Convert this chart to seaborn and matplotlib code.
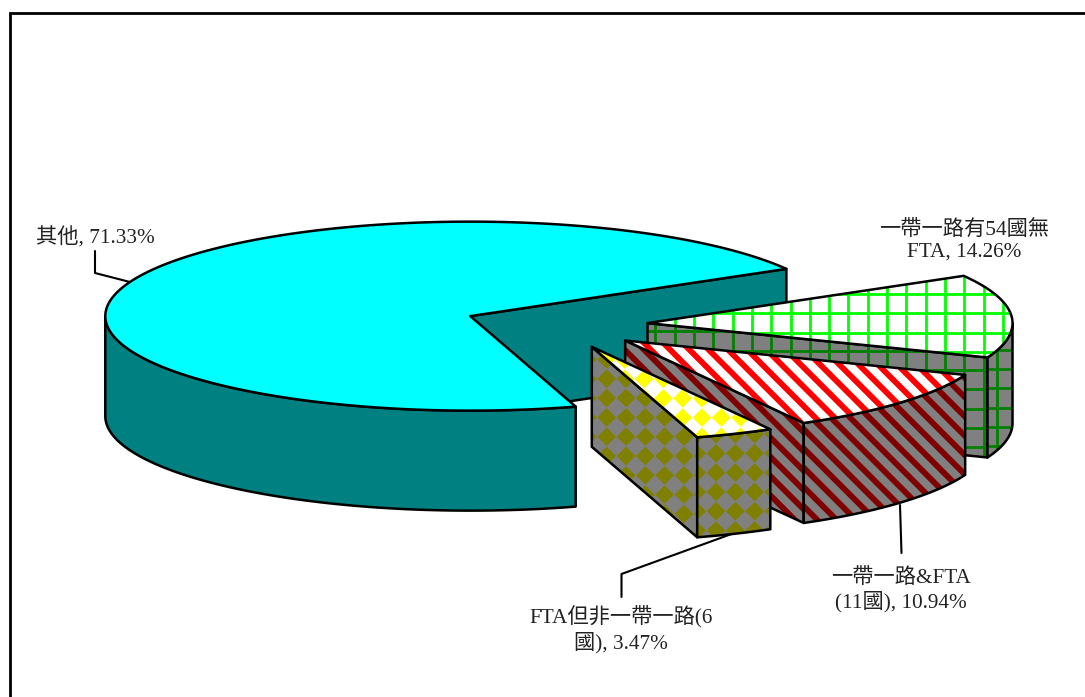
import numpy as np
import matplotlib
matplotlib.use("Agg")
import matplotlib.pyplot as plt
from matplotlib.collections import LineCollection, PolyCollection
from matplotlib.patches import Polygon
import seaborn as sns

# Trade share by partner group (percent)
labels = ["其他", "FTA但非一帶一路(6\n國)", "一帶一路&FTA\n(11國)", "一帶一路有54國無\nFTA"]
shares = [71.33, 3.47, 10.94, 14.26]
top_colors = ["#00FFFF", "#FFFFFF", "#FFFFFF", "#FFFFFF"]
wall_colors = ["#008080", "#808080", "#808080", "#808080"]
ink_top = [None, "#FFFF00", "#FF0000", "#00FF00"]
ink_wall = [None, "#808000", "#800000", "#008000"]

sns.set_theme(style="white")
FONT = ["Liberation Serif", "Noto Sans CJK TC", "DejaVu Sans"]
plt.rcParams["font.family"] = FONT

W, H = 1085, 697
fig = plt.figure(figsize=(W / 100, H / 100), dpi=100, facecolor="white")
ax = fig.add_axes([0, 0, 1, 1])
ax.set_xlim(0, W)
ax.set_ylim(H, 0)
ax.axis("off")

# Projection of the pie: an ellipse, a drop for the rim, and one explosion factor
CX, CY, RX, RY, DEPTH, EXPLODE = 555.8, 324.9, 365.0, 94.5, 100.0, 0.252
START_DEG = 30.0
PERIOD = 19.3
EDGE = 1.8


def rim(apex, deg):
    t = np.radians(deg)
    return np.column_stack([apex[0] + RX * np.cos(t), apex[1] - RY * np.sin(t)])


def pattern(patch, kind, color, phase):
    """Lay a repeating fill over a polygon, clipped to its outline."""
    verts = patch.get_xy()
    x0, y0 = verts.min(axis=0)
    x1, y1 = verts.max(axis=0)
    px, py = phase
    if kind == "grid":
        xs = np.arange(px - PERIOD * np.ceil((px - x0) / PERIOD), x1 + 1, PERIOD)
        ys = np.arange(py - PERIOD * np.ceil((py - y0) / PERIOD), y1 + 1, PERIOD)
        segs = [[(x, y0), (x, y1)] for x in xs] + [[(x0, y), (x1, y)] for y in ys]
        art = LineCollection(segs, colors=color, linewidths=2.0, zorder=patch.get_zorder())
    elif kind == "stripe":
        first = px - py
        cs = np.arange(first - PERIOD * np.ceil((first - (x0 - y1)) / PERIOD), x1 - y0 + 1, PERIOD)
        segs = [[(c + y0, y0), (c + y1, y1)] for c in cs]
        art = LineCollection(segs, colors=color, linewidths=4.2, zorder=patch.get_zorder())
    else:
        half = PERIOD / 2
        r = half * 0.97
        xs = np.arange(px - PERIOD * np.ceil((px - x0 + half) / PERIOD), x1 + half, PERIOD)
        ys = np.arange(py - PERIOD * np.ceil((py - y0 + half) / PERIOD), y1 + half, PERIOD)
        d = [[(x - r, y), (x, y - r), (x + r, y), (x, y + r)] for x in xs for y in ys]
        art = PolyCollection(d, facecolors=color, edgecolors="none", zorder=patch.get_zorder())
    ax.add_collection(art, autolim=False)
    art.set_clip_path(patch)


def face(verts, fill, z, kind=None, ink=None, phase=None):
    patch = Polygon(verts, closed=True, facecolor=fill, edgecolor="none", zorder=z)
    ax.add_patch(patch)
    if kind:
        pattern(patch, kind, ink, phase)
    ax.add_patch(Polygon(verts, closed=True, facecolor="none", edgecolor="black",
                         linewidth=EDGE, joinstyle="round", zorder=z))


# Fill style and pattern origin per slice: top, cut side, outer rim
styles = {
    1: ("diamond", (682.7, 398.3), (606.7, 436.7), (716.0, 453.3)),
    2: ("stripe", (793.3, 415.0), (630.0, 355.0), (800.0, 483.3)),
    3: ("grid", (964.3, 294.0), (964.3, 370.0), (996.7, 369.0)),
}

edges = START_DEG + np.concatenate([[0], np.cumsum(shares) * 3.6])

# Back slice first so the exploded front slices overlap it
for order, i in enumerate([0, 3, 2, 1]):
    t0, t1 = edges[i], edges[i + 1]
    mid = np.radians((t0 + t1) / 2)
    apex = (CX + EXPLODE * RX * np.cos(mid), CY - EXPLODE * RY * np.sin(mid))
    z = 2 + order * 3
    kind, top_org, cut_org, out_org = styles.get(i, (None, None, None, None))

    if np.cos(np.radians(t0)) > 0:
        corner = rim(apex, np.array([t0]))[0]
        cut = [apex, corner, (corner[0], corner[1] + DEPTH), (apex[0], apex[1] + DEPTH)]
        face(cut, wall_colors[i], z, kind, ink_wall[i], cut_org)

    for lo, hi in [(180, 360), (540, 720)]:
        a, b = max(t0, lo), min(t1, hi)
        if b > a:
            arc = rim(apex, np.linspace(a, b, 90))
            verts = np.vstack([arc, (arc + [0, DEPTH])[::-1]])
            face(verts, wall_colors[i], z + 1, kind, ink_wall[i], out_org)

    top = np.vstack([[apex], rim(apex, np.linspace(t0, t1, 180))])
    face(top, top_colors[i], z + 2, kind, ink_top[i], top_org)

# Chart frame: only the top and left rules are drawn
ax.plot([10, 10, W], [H, 13, 13], color="black", lw=2.0, zorder=20, solid_joinstyle="miter")

# Leader lines
leaders = [
    ([95, 95, 130], [251, 273, 282]),
    ([621.5, 621.5, 737], [597, 574, 532]),
    ([900, 901.5], [505, 553]),
]
for xs, ys in leaders:
    ax.plot(xs, ys, color="black", lw=1.5, zorder=1)

# Data labels
placed = [(95, 238), (621, 630), (901, 590), (964, 241)]
for lab, val, (x, y) in zip(labels, shares, placed):
    ax.text(x, y, f"{lab}, {val:.2f}%", ha="center", va="center", ma="center",
            fontsize=15.3, color="#222222", family=FONT, linespacing=1.2, zorder=21)

fig.savefig("out.png", dpi=100, facecolor="white")
